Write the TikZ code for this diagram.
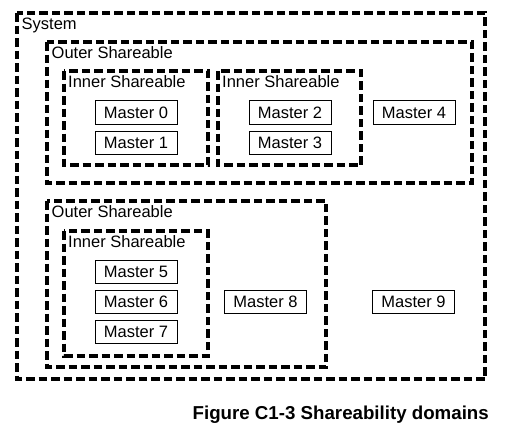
\documentclass[tikz,border=0pt]{standalone}
\usepackage{fontspec}
\setmainfont{Liberation Sans}

\begin{document}
\begin{tikzpicture}[x=1pt,y=-1pt,
    sharebox/.style={line width=3.2pt, dash pattern=on 8.5pt off 4pt},
    master/.style={draw, line width=1pt, minimum width=82pt, minimum height=23.5pt,
      inner sep=0pt, font=\fontsize{16.5}{18}\selectfont},
    dlabel/.style={anchor=base west, inner sep=0pt, font=\fontsize{16.5}{18}\selectfont}]
        \useasboundingbox (0,0) rectangle (509,431);
        % shareability domains
        \draw[sharebox] (17,13) rectangle (485,379);
        \draw[sharebox] (47,42) rectangle (472,183);
        \draw[sharebox] (64,71) rectangle (208,165);
        \draw[sharebox] (218,71) rectangle (361,165);
        \draw[sharebox] (47,201) rectangle (326,367);
        \draw[sharebox] (64,231) rectangle (208,356);
        \node[dlabel] (sys) at (21.5,29.5) {System};
        \node[dlabel] (outerA) at (51.5,58.5) {Outer Shareable};
        \node[dlabel] (innerA) at (68,87) {Inner Shareable};
        \node[dlabel] (innerB) at (222,87) {Inner Shareable};
        \node[dlabel] (outerB) at (51.5,217.5) {Outer Shareable};
        \node[dlabel] (innerC) at (68,247) {Inner Shareable};
        % masters
        \foreach \n/\x/\y in {0/136/112.5, 1/136/143, 2/290/112.5, 3/290/143, 4/414/112.5,
                              5/136/272, 6/136/302, 7/136/332, 8/265.5/302, 9/413.5/302} {
          \node[master] (m\n) at (\x,\y) {Master \n};
        }
        \node[anchor=base east, inner sep=0pt, font=\bfseries\fontsize{18.7}{22}\selectfont]
          (caption) at (489,419) {Figure C1-3 Shareability domains};
      \end{tikzpicture}
\end{document}
